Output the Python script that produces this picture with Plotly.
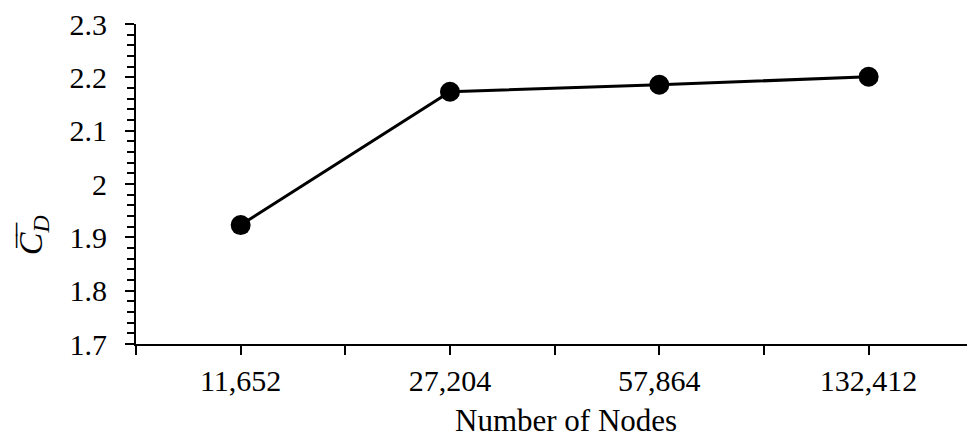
import plotly.graph_objects as go

categories = ["11,652", "27,204", "57,864", "132,412"]
cd_values = [1.923, 2.173, 2.186, 2.201]
y_ticks = [1.7, 1.8, 1.9, 2.0, 2.1, 2.2, 2.3]
y_tick_labels = ["1.7", "1.8", "1.9", "2", "2.1", "2.2", "2.3"]

xpos = list(range(len(categories)))
FONT = "Liberation Serif, Times New Roman, serif"

fig = go.Figure()
fig.add_trace(go.Scatter(
    x=xpos, y=cd_values, mode="lines+markers",
    line=dict(color="black", width=3),
    marker=dict(color="black", size=20),
    showlegend=False,
))

fig.update_layout(
    width=967, height=437,
    margin=dict(l=136, r=0, t=24, b=93),
    paper_bgcolor="white", plot_bgcolor="white",
    font=dict(family=FONT, size=30, color="black"),
    xaxis=dict(
        range=[-0.5, 3.47], tickmode="array", tickvals=xpos, ticktext=categories,
        showgrid=False, zeroline=False, showline=True, linecolor="black", linewidth=1.5,
        ticks="outside", ticklen=9, tickwidth=1.5, tickcolor="black",
        minor=dict(tickmode="linear", tick0=-0.5, dtick=0.5, ticks="outside", ticklen=9,
                   tickwidth=1.5, tickcolor="black", showgrid=False),
        tickfont=dict(family=FONT, size=30, color="black"),
    ),
    yaxis=dict(
        range=[1.7, 2.3], tickmode="array", tickvals=y_ticks, ticktext=y_tick_labels,
        showgrid=False, zeroline=False, showline=True, linecolor="black", linewidth=2,
        ticks="outside", ticklen=9, tickwidth=1.5, tickcolor="black",
        minor=dict(tickmode="linear", tick0=1.7, dtick=0.02, ticks="outside", ticklen=7,
                   tickwidth=1.5, tickcolor="black", showgrid=False),
        tickfont=dict(family=FONT, size=30, color="black"),
        ticklabelstandoff=12,
    ),
    annotations=[
        dict(text="<i>C<sub>D</sub></i>",
             xref="paper", yref="paper", x=-0.124, y=0.34, showarrow=False,
             textangle=-90, xanchor="center", yanchor="middle",
             font=dict(family=FONT, size=34, color="black")),
        dict(text="\u203e\u203e",
             xref="paper", yref="paper", x=-0.1255, y=0.34, showarrow=False,
             textangle=-90, xanchor="center", yanchor="middle",
             font=dict(family=FONT, size=35, color="black")),
        dict(text="Number of Nodes", xref="paper", yref="paper", x=0.517, y=-0.24,
             showarrow=False, xanchor="center", yanchor="middle",
             font=dict(family=FONT, size=31, color="black")),
    ],
)

fig.write_html("out.html")
